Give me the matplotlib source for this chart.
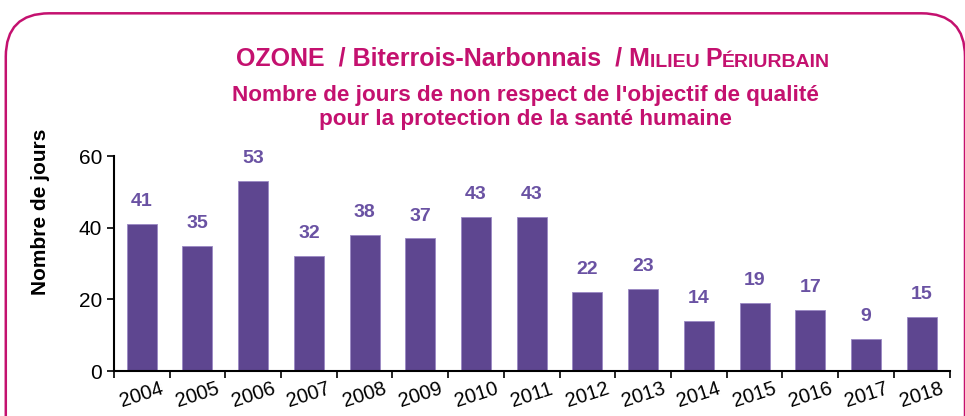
import matplotlib
matplotlib.use("Agg")
import matplotlib.pyplot as plt
from matplotlib.patches import FancyBboxPatch

# Données
annees = ["2004", "2005", "2006", "2007", "2008", "2009", "2010", "2011",
          "2012", "2013", "2014", "2015", "2016", "2017", "2018"]
jours = [41, 35, 53, 32, 38, 37, 43, 43, 22, 23, 14, 19, 17, 9, 15]

rose = "#C4116F"
violet = "#5E4690"
violet_txt = "#6A52A3"
arial = ['Liberation Sans', 'DejaVu Sans']

plt.rcParams['font.family'] = ['Liberation Sans Narrow', 'Liberation Sans', 'DejaVu Sans']

fig = plt.figure(figsize=(9.65, 4.16), dpi=100)

# cadre arrondi
cadre = FancyBboxPatch((0.006, -0.2), 0.994, 1.168, boxstyle="round,pad=0,rounding_size=0.045",
                       transform=fig.transFigure, fill=False, edgecolor=rose, linewidth=1.8,
                       mutation_aspect=965 / 416)
fig.patches.append(cadre)

ax = fig.add_axes([0.118, 0.108, 0.866, 0.517])
x = range(len(annees))
ax.bar(x, jours, width=0.54, color=violet, edgecolor="#9A88C4", linewidth=0.6)
for i, v in enumerate(jours):
    ax.annotate(str(v), (i, v), xytext=(0, 10), textcoords="offset points",
                ha="center", va="bottom", fontsize=14, fontweight="bold",
                color=violet_txt, family=arial)

ax.set_xlim(-0.5, len(annees) - 0.5)
ax.set_ylim(0, 60)
ax.set_yticks([0, 20, 40, 60])
ax.set_xticks([i - 0.5 for i in range(len(annees) + 1)], minor=False)
ax.set_xticklabels([])
ax.set_xticks(list(x), minor=True)
ax.set_xticklabels(annees, minor=True, rotation=18, ha="center", fontsize=14.5,
                   family=arial)
ax.tick_params(axis="x", which="major", direction="out", length=5, width=1.2)
ax.tick_params(axis="x", which="minor", length=0, pad=6)
ax.tick_params(axis="y", direction="out", length=5, width=1.2, labelsize=15)
for lab in ax.get_yticklabels():
    lab.set_family(arial)
for s in ["top", "right"]:
    ax.spines[s].set_visible(False)
for s in ["left", "bottom"]:
    ax.spines[s].set_linewidth(1.5)

ax.set_ylabel("Nombre de jours", fontsize=15, fontweight="bold", family=arial)
ax.yaxis.set_label_coords(-0.077, 0.74)

# titre en plusieurs morceaux (petites capitales)
t = fig.text(0.2446, 1 - 66 / 416, "OZONE  / Biterrois-Narbonnais  / M", fontsize=18,
             fontweight="bold", color=rose, va="baseline")
prev = t
for txt, fs in [("ILIEU ", 14), ("P", 18), ("ÉRIURBAIN", 14)]:
    prev = ax.annotate(txt, xy=(1, 0), xycoords=prev, fontsize=fs, fontweight="bold",
                       color=rose, va="bottom", ha="left", annotation_clip=False)

fig.text(0.544, 1 - 101 / 416, "Nombre de jours de non respect de l'objectif de qualité",
         fontsize=16.2, fontweight="bold", color=rose, ha="center", va="baseline")
fig.text(0.544, 1 - 125 / 416, "pour la protection de la santé humaine",
         fontsize=16.2, fontweight="bold", color=rose, ha="center", va="baseline")

fig.savefig("out.png", dpi=100)
